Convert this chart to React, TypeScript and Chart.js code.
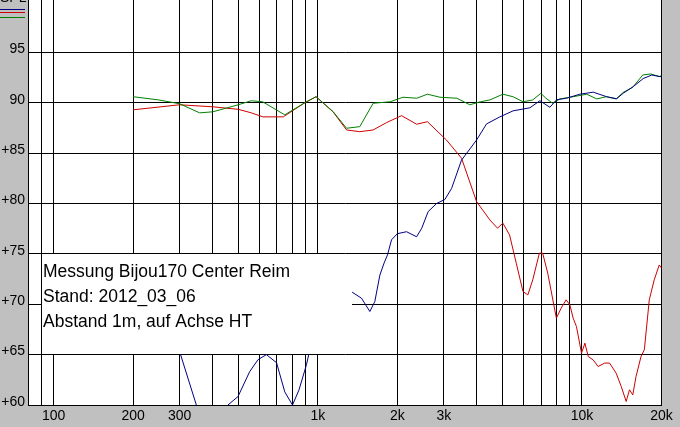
import React, { useEffect, useRef } from 'react';
import { Chart, registerables } from 'chart.js';

Chart.register(...registerables);

// ---- data ----
const gridFreqs = [80, 90, 100, 200, 300, 400, 500, 600, 700, 800, 900, 1000, 2000, 3000, 4000, 5000, 6000, 7000, 8000, 9000, 10000, 20000];
const xTickValues = [100, 200, 300, 1000, 2000, 3000, 10000, 20000];
const xTickLabels = ['100', '200', '300', '1k', '2k', '3k', '10k', '20k'];
const yGridValues = [60, 65, 70, 75, 80, 85, 90, 95];
const yTickLabels = ['+60', '+65', '+70', '+75', '+80', '+85', '90', '95'];
const noteLines = ['Messung Bijou170 Center Reim', 'Stand: 2012_03_06', 'Abstand 1m, auf Achse HT'];
const axisTitle = 'SPL';

const blueFreq = [290, 302, 347, 380, 430, 457, 499, 552, 594, 639, 698, 750, 802, 849, 906, 927, 1000, 1100, 1200, 1300, 1349, 1464, 1574, 1644, 1718, 1783, 1836, 1902, 2000, 2167, 2366, 2475, 2617, 2816, 3028, 3210, 3499, 3990, 4354, 4889, 5490, 6350, 6930, 7560, 8020, 8745, 9820, 11030, 12400, 13530, 14330, 15630, 17050, 18360, 19740, 20000];
const blueDb = [66.5, 65.05, 60.0, 58.0, 59.0, 60.0, 60.84, 63.3, 64.5, 65.0, 64.2, 61.3, 60.0, 61.5, 64.0, 65.15, 67.5, 70.0, 71.5, 71.6, 71.2, 70.6, 69.28, 70.27, 72.9, 74.1, 74.9, 76.4, 77.0, 77.2, 76.7, 77.55, 79.2, 80.0, 80.4, 81.5, 84.3, 86.3, 87.9, 88.6, 89.2, 89.5, 90.2, 89.55, 90.3, 90.45, 90.85, 91.05, 90.6, 90.4, 90.95, 91.6, 92.4, 92.75, 92.6, 92.6];

const redFreq = [200, 300, 400, 500, 560, 620, 740, 894, 985, 1143, 1285, 1442, 1620, 1820, 2075, 2366, 2600, 3070, 3500, 3990, 4480, 4790, 5020, 5320, 5640, 5980, 6240, 6510, 6900, 7100, 7420, 8000, 8340, 8710, 9000, 9260, 9530, 9960, 10260, 10560, 11020, 11510, 12180, 12720, 13470, 14080, 14700, 15130, 15570, 16020, 16730, 17220, 17980, 18770, 19610, 20000];
const redDb = [89.3, 89.8, 89.6, 89.35, 89.0, 88.6, 88.6, 90.01, 90.6, 89.09, 87.3, 87.13, 87.3, 88.03, 88.72, 87.87, 88.12, 86.3, 84.5, 80.19, 78.37, 77.55, 78.05, 76.88, 74.08, 71.26, 70.93, 72.42, 75.07, 75.07, 73.08, 68.62, 69.61, 70.44, 69.94, 68.62, 67.79, 65.15, 66.14, 64.81, 64.48, 63.82, 64.16, 64.16, 63.16, 61.84, 60.35, 61.51, 61.0, 62.83, 64.81, 65.48, 70.44, 72.42, 73.9, 73.6];

const greenFreq = [200, 250, 300, 357, 400, 500, 560, 618, 750, 894, 985, 1143, 1285, 1442, 1620, 1880, 2100, 2370, 2600, 2900, 3360, 3760, 4130, 4480, 5020, 5480, 5980, 6510, 6990, 7300, 7740, 8250, 9260, 10420, 11380, 12360, 13470, 14280, 15570, 16990, 18240, 19610, 20000];
const greenDb = [90.6, 90.28, 89.9, 89.0, 89.1, 89.8, 90.2, 90.1, 88.8, 90.01, 90.6, 89.12, 87.47, 87.63, 89.95, 90.1, 90.55, 90.45, 90.85, 90.55, 90.45, 89.8, 90.1, 90.28, 90.85, 90.6, 90.1, 90.28, 90.94, 90.45, 89.95, 90.38, 90.6, 90.85, 90.38, 90.6, 90.38, 91.0, 91.54, 92.76, 92.86, 92.6, 92.7];

const BLUE = '#000080';
const RED = '#cc0000';
const GREEN = '#008000';
const FONT = '"Liberation Sans", Arial, sans-serif';

const toPoints = (xs: number[], ys: number[]) => xs.map((x, i) => ({ x, y: ys[i] }));

const framePlugin = {
  id: 'frame',
  beforeDraw(chart: any) {
    const { ctx, chartArea: a, width, height } = chart;
    ctx.save();
    ctx.fillStyle = '#c0c0c0';
    ctx.fillRect(0, 0, width, height);
    ctx.fillStyle = '#ffffff';
    ctx.fillRect(a.left, a.top, a.right - a.left, a.bottom - a.top);
    ctx.restore();
  },
  afterDatasetsDraw(chart: any) {
    const { ctx } = chart;
    const xs = chart.scales.x;
    const ys = chart.scales.y;
    const left = Math.round(xs.getPixelForValue(90) - 0.5) + 1;
    const right = Math.round(xs.getPixelForValue(1345));
    const top = Math.round(ys.getPixelForValue(75) - 0.5) + 1;
    const bottom = Math.round(ys.getPixelForValue(65) - 0.5);
    ctx.save();
    ctx.fillStyle = '#ffffff';
    ctx.fillRect(left, top, right - left, bottom - top);
    ctx.fillStyle = '#000000';
    ctx.font = `17.5px ${FONT}`;
    ctx.textAlign = 'left';
    ctx.textBaseline = 'alphabetic';
    noteLines.forEach((t, i) => {
      ctx.fillText(t, left + 1, top + 23 + i * 25);
    });
    ctx.restore();
  },
  afterDraw(chart: any) {
    const { ctx, chartArea: a } = chart;
    const xs = chart.scales.x;
    const ys = chart.scales.y;
    ctx.save();
    ctx.fillStyle = '#000000';
    ctx.font = `14px ${FONT}`;
    ctx.textBaseline = 'middle';
    ctx.textAlign = 'right';
    yGridValues.forEach((v, i) => {
      ctx.fillText(yTickLabels[i], a.left - 3, ys.getPixelForValue(v) - 3);
    });
    ctx.textAlign = 'center';
    xTickValues.forEach((v, i) => {
      ctx.fillText(xTickLabels[i], xs.getPixelForValue(v), a.bottom + 11);
    });
    // axis title, mostly cut off at the top edge
    ctx.textAlign = 'left';
    ctx.textBaseline = 'alphabetic';
    ctx.fillText(axisTitle, 0, 2);
    // legend swatches, top left
    const sw = [BLUE, RED, GREEN];
    const yy = [9.5, 12.5, 17.5];
    ctx.lineWidth = 1;
    sw.forEach((c, i) => {
      ctx.strokeStyle = c;
      ctx.beginPath();
      ctx.moveTo(0, yy[i]);
      ctx.lineTo(25, yy[i]);
      ctx.stroke();
    });
    ctx.restore();
  },
};

export default function App() {
  const ref = useRef<HTMLCanvasElement | null>(null);

  useEffect(() => {
    document.body.style.margin = '0';
    const canvas = ref.current;
    if (!canvas) return;
    const mk = (label: string, xs: number[], ys: number[], color: string) => ({
      label,
      data: toPoints(xs, ys),
      borderColor: color,
      backgroundColor: color,
      borderWidth: 1,
      pointRadius: 0,
      tension: 0,
      fill: false,
      clip: 0,
    });
    const chart = new Chart(canvas, {
      type: 'line',
      data: {
        datasets: [
          mk('Blue', blueFreq, blueDb, BLUE),
          mk('Green', greenFreq, greenDb, GREEN),
          mk('Red', redFreq, redDb, RED),
        ],
      },
      options: {
        animation: false,
        responsive: false,
        maintainAspectRatio: false,
        layout: { padding: { top: 0, left: 0, right: 18.5, bottom: 0 } },
        plugins: { legend: { display: false }, tooltip: { enabled: false }, title: { display: false } },
        scales: {
          x: {
            type: 'logarithmic',
            min: 80,
            max: 20000,
            afterBuildTicks: (s: any) => {
              s.ticks = gridFreqs.map((v) => ({ value: v }));
            },
            ticks: { display: false },
            grid: { color: '#000000', lineWidth: 1, drawTicks: false },
            border: { display: true, color: '#000000', width: 1 },
            afterFit: (s: any) => {
              s.height = 22;
            },
          },
          y: {
            type: 'linear',
            min: 60,
            max: 100.2,
            afterBuildTicks: (s: any) => {
              s.ticks = yGridValues.map((v) => ({ value: v }));
            },
            ticks: { display: false },
            grid: { color: '#000000', lineWidth: 1, drawTicks: false },
            border: { display: true, color: '#000000', width: 1 },
            afterFit: (s: any) => {
              s.width = 28;
            },
          },
        },
      } as any,
      plugins: [framePlugin],
    });
    return () => chart.destroy();
  }, []);

  return <canvas ref={ref} width={680} height={427} style={{ display: 'block' }} />;
}
